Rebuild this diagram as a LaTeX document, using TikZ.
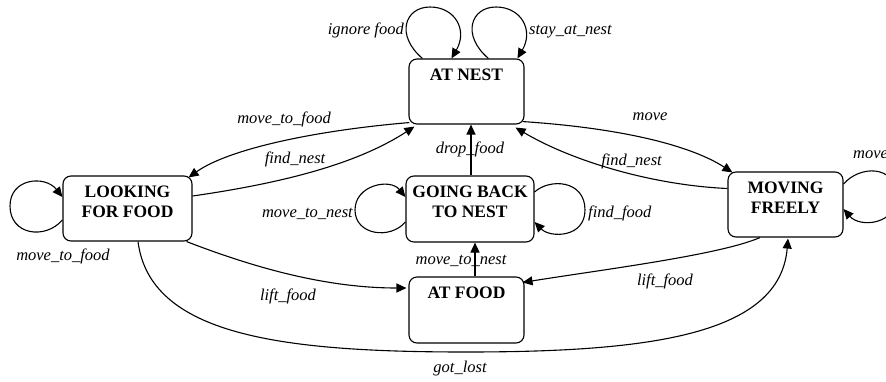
\documentclass[tikz,border=0pt]{standalone}
\usepackage{fontspec}
\setmainfont{Liberation Serif}
\usetikzlibrary{arrows.meta}
\tikzset{
  state/.style={draw, line width=1.1pt, rounded corners=8pt, inner sep=0pt,
    font=\fontsize{17.5}{20.5}\selectfont\bfseries, text height=21pt},
  lbl/.style={font=\fontsize{16.5}{18}\selectfont\itshape, inner sep=0pt, anchor=base},
  arr/.style={line width=1.1pt, -{Triangle[length=10pt,width=9pt]}},
}
\begin{document}
\begin{tikzpicture}[x=1pt,y=-1pt]
\useasboundingbox (0,0) rectangle (886,381);
\clip (0,0) rectangle (886,381);
% states
\node[state, minimum width=115pt, text depth=44pt] (an) at (466.5,91.5) {\begin{tabular}[t]{@{}c@{}}AT NEST\end{tabular}};
\node[state, minimum width=129pt, text depth=44pt] (lf) at (127.5,208.5) {\begin{tabular}[t]{@{}c@{}}LOOKING\\FOR FOOD\end{tabular}};
\node[state, minimum width=128pt, text depth=45pt] (gb) at (470,209) {\begin{tabular}[t]{@{}c@{}}GOING BACK\\TO NEST\end{tabular}};
\node[state, minimum width=115pt, text depth=45pt] (af) at (466.5,310) {\begin{tabular}[t]{@{}c@{}}AT FOOD\end{tabular}};
\node[state, minimum width=115pt, text depth=44pt] (mf) at (785.5,204.5) {\begin{tabular}[t]{@{}c@{}}MOVING\\FREELY\end{tabular}};

% self loops on AT NEST
\draw[arr] ([xshift=14pt]an.north west) .. controls (395,35) and (405,7) .. (430,7)
  .. controls (455,7) and (468,30) .. ([xshift=43pt]an.north west);
\draw[arr] ([xshift=80pt]an.north west) .. controls (461,35) and (471,7) .. (496,7)
  .. controls (521,7) and (534,30) .. ([xshift=109pt]an.north west);
\node[lbl, anchor=base east] (l1) at (404,34) {ignore food};
\node[lbl, anchor=base west] (l2) at (529,34) {stay\_at\_nest};

% AT NEST <-> LOOKING FOR FOOD
\draw[arr] ([xshift=1pt,yshift=2pt]an.south west) .. controls (320,130) and (230,148) .. ([xshift=-4pt,yshift=-2pt]lf.north east);
\draw[arr] ([yshift=12.5pt]lf.east) .. controls (290,182) and (360,162) .. ([xshift=6pt,yshift=-2pt]an.south west);
\node[lbl] (l3) at (284,123) {move\_to\_food};
\node[lbl] (l4) at (295,163) {find\_nest};

% AT NEST <-> MOVING FREELY
\draw[arr] ([xshift=-2pt,yshift=3pt]an.south east) .. controls (620,128) and (690,145) .. ([xshift=5pt,yshift=-1pt]mf.north west);
\draw[arr] ([yshift=16pt]mf.west) .. controls (650,185) and (570,160) .. ([xshift=-9pt,yshift=-3pt]an.south east);
\node[lbl] (l5) at (650,120) {move};
\node[lbl] (l6) at (631.5,165) {find\_nest};

% GOING BACK -> AT NEST
\coordinate (dfs) at ([xshift=1pt]gb.north);
\draw[arr] (dfs) -- (dfs |- an.south);
\node[lbl] (l7) at (470,153) {drop\_food};

% AT FOOD -> GOING BACK
\coordinate (mns) at ([xshift=8.5pt]af.north);
\draw[arr] (mns) -- (mns |- gb.south);
\node[lbl] (l8) at (461,264) {move\_to\_nest};

% self loops on GOING BACK
\draw[arr] ([yshift=-13pt]gb.west) .. controls (390,240) and (355,235) .. (355,210)
  .. controls (355,185) and (390,178) .. ([yshift=12pt]gb.west);
\draw[arr] ([yshift=17pt]gb.east) .. controls (550,178) and (585,180) .. (585,210)
  .. controls (585,238) and (550,238) .. ([yshift=-13pt]gb.east);
\node[lbl, anchor=base east] (l9) at (353,217) {move\_to\_nest};
\node[lbl, anchor=base west] (l10) at (588,217) {find\_food};

% self loop on LOOKING FOR FOOD
\draw[arr] ([yshift=-11.5pt]lf.west) .. controls (45,240) and (10,235) .. (10,206)
  .. controls (10,178) and (45,175) .. ([yshift=11.5pt]lf.west);
\node[lbl] (l11) at (63,260) {move\_to\_food};

% self loop on MOVING FREELY
\draw[arr] ([yshift=20.5pt]mf.east) .. controls (860,165) and (895,165) .. (897,195)
  .. controls (897,225) and (860,228) .. ([yshift=-4.5pt]mf.east);
\node[lbl, anchor=base west] (l12) at (853,158) {move};

% lift_food edges
\draw[arr] ([xshift=-6pt]lf.south east) .. controls (260,270) and (330,288) .. ([xshift=-2pt,yshift=22pt]af.west);
\draw[arr] ([xshift=-25.5pt]mf.south) .. controls (720,255) and (600,270) .. ([xshift=-2pt,yshift=-6pt]af.north east);
\node[lbl] (l13) at (288,300) {lift\_food};
\node[lbl] (l14) at (665,285) {lift\_food};

% got_lost
\draw[arr] ([xshift=10.5pt]lf.south) .. controls (150,335) and (280,352) .. (466,352)
  .. controls (650,352) and (780,335) .. ([xshift=2.5pt,yshift=-1pt]mf.south);
\node[lbl] (l15) at (460,372) {got\_lost};
\end{tikzpicture}
\end{document}
